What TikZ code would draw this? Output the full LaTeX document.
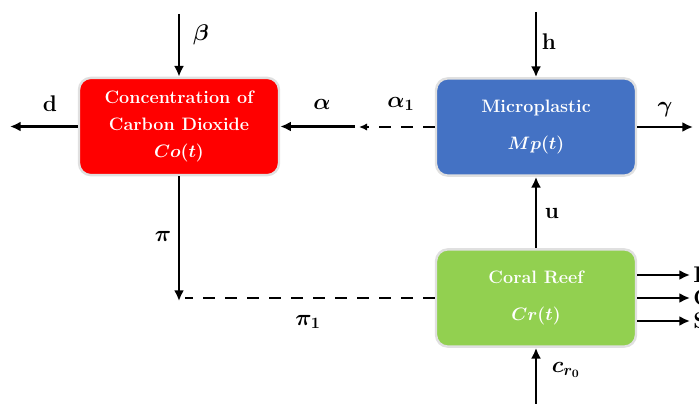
\RequirePackage{fix-cm}
\documentclass[tikz,border=0pt]{standalone}
\usepackage{amsmath, amssymb}
\usepackage{fontspec}
\usepackage{tikz}
\usetikzlibrary{positioning, arrows.meta}
\definecolor{co2red}{HTML}{FF0000}
\definecolor{mpblue}{HTML}{4472C4}
\definecolor{crgreen}{HTML}{92D050}

\begin{document}
\begin{tikzpicture}[
  x=0.75pt, y=-0.75pt,
  every node/.style={font=\fontsize{17}{20}\selectfont},
  box/.style={rounded corners=9pt, draw=black!12, line width=1.8pt,
              minimum width=150pt, minimum height=73pt, text=white,
              font=\fontsize{13.5}{20}\selectfont\bfseries, align=center},
  flow/.style={-{Latex[length=8pt, width=7.5pt]}, line width=1.8pt},
  dflow/.style={flow, dash pattern=on 9pt off 7.5pt}
]
\useasboundingbox (0,0) rectangle (699,403);

% compartments
\node[box, fill=co2red] (co) at (179,126.5)
  {Concentration of\\ Carbon Dioxide\\ $\boldsymbol{Co(t)}$};
\node[box, fill=mpblue] (mp) at (536,127)
  {Microplastic\\[8pt] $\boldsymbol{Mp(t)}$};
\node[box, fill=crgreen] (cr) at (536,298)
  {Coral Reef\\[8pt] $\boldsymbol{Cr(t)}$};

% free ends
\coordinate (betain) at (co.north |- 0,14);
\coordinate (dout) at (co.west -| 10,0);
\coordinate (aend) at (co.east -| 355,0);
\coordinate (a1end) at (mp.west -| 359,0);
\coordinate (hin) at (mp.north |- 0,12);
\coordinate (gout) at (mp.east -| 693,0);
\coordinate (pijoin) at (co.south |- 0,301);
\coordinate (pi1end) at (cr.west -| 185,0);
\coordinate (crin) at (cr.south |- 0,405);
\coordinate (o1) at (690,275);
\coordinate (o2) at (cr.east -| 690,0);
\coordinate (o3) at (690,321);

% carbon dioxide
\draw[flow] (betain) -- (co.north);
\draw[flow] (co.west) -- (dout);
\draw[flow] (aend) -- (co.east);
\draw[flow] (co.south) -- (pijoin);

% microplastic
\draw[flow] (hin) -- (mp.north);
\draw[flow] (mp.east) -- (gout);
\draw[dflow, -{Latex[length=6pt, width=5.5pt]}] (mp.west) -- (a1end);

% coral reef
\draw[flow] (cr.north) -- (mp.south);
\draw[flow] (crin) -- (cr.south);
\draw[dflow, -] (cr.west) -- (pi1end);
\draw[flow] (cr.east |- o1) -- (o1);
\draw[flow] (cr.east) -- (o2);
\draw[flow] (cr.east |- o3) -- (o3);

% rates
\node (beta) at (201,35) {$\boldsymbol{\beta}$};
\node (d) at (50,104) {\textbf{d}};
\node (alpha) at (322,104) {$\boldsymbol{\alpha}$};
\node (alpha1) at (401,104) {$\boldsymbol{\alpha_1}$};
\node (h) at (549,42) {\textbf{h}};
\node (gamma) at (665,110) {$\boldsymbol{\gamma}$};
\node (u) at (552,213) {\textbf{u}};
\node (pi) at (163,236) {$\boldsymbol{\pi}$};
\node (pi1) at (308,322) {$\boldsymbol{\pi_1}$};
\node (cr0) at (566,370) {$\boldsymbol{c_{r_0}}$};
\node[anchor=west, inner sep=0pt] (r1) at (693,275) {\textbf{B}};
\node[anchor=west, inner sep=0pt] (r2) at (693,298) {\textbf{G}};
\node[anchor=west, inner sep=0pt] (r3) at (693,321) {\textbf{S}};

\end{tikzpicture}
\end{document}
